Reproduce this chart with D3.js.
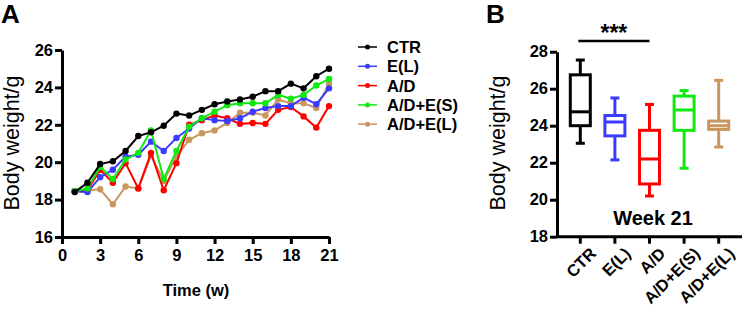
<!DOCTYPE html>
<html>
<head>
<meta charset="utf-8">
<script src="https://cdn.jsdelivr.net/npm/d3@7"></script>
<style>
  body { margin: 0; background: #fff; }
  svg { font-family: "Liberation Sans", Arial, sans-serif; }
  .axis text { font-size: 16.5px; font-weight: bold; fill: #000; }
  .axis path, .axis line { stroke: #000; stroke-width: 3px; }
</style>
</head>
<body>
<svg id="chart" width="746" height="318"></svg>
<script>
// Panel A: weekly body weight
const weeks = d3.range(1, 22);
const ctr   = [18.4, 18.9, 19.9, 20.05, 20.6, 21.4, 21.6, 21.95, 22.6, 22.5, 22.8, 23.1, 23.25, 23.35, 23.5, 23.8, 23.8, 24.2, 23.95, 24.6, 25.0];
const eL    = [18.45, 18.4, 19.2, 19.6, 20.3, 20.4, 21.1, 20.6, 21.3, 21.8, 22.35, 22.25, 22.2, 22.35, 22.7, 22.9, 23.0, 23.0, 23.45, 23.1, 23.95];
const ad    = [18.45, 18.5, 19.6, 18.9, 19.95, 18.6, 20.5, 18.5, 19.95, 22.0, 22.25, 22.5, 22.35, 22.05, 22.1, 22.05, 22.8, 22.95, 22.45, 21.85, 23.0];
const adES  = [18.45, 18.6, 19.75, 19.1, 20.15, 20.5, 21.7, 19.1, 20.6, 21.9, 22.35, 22.7, 23.05, 23.15, 23.15, 23.15, 23.6, 23.4, 23.6, 24.1, 24.45];
const adEL  = [18.45, 18.5, 18.55, 17.75, 18.7, 18.6, 20.35, 19.0, 20.3, 21.2, 21.55, 21.7, 22.1, 22.65, 22.65, 22.5, 23.35, 23.15, 23.15, 22.9, 24.2];
const groups = ['CTR', 'E(L)', 'A/D', 'A/D+E(S)', 'A/D+E(L)'];
const colors = ['#000000', '#3b3bff', '#ff0000', '#10e810', '#c8965e'];
const xTicksA = [0, 3, 6, 9, 12, 15, 18, 21];
const yTicksA = [16, 18, 20, 22, 24, 26];

// Panel B: week 21 box plots [min, q1, median, q3, max]
const boxStats = [
  [23.05, 24.0, 24.75, 26.75, 27.55],
  [22.15, 23.45, 24.2, 24.55, 25.5],
  [20.2, 20.85, 22.2, 23.75, 25.15],
  [21.7, 23.75, 24.85, 25.6, 25.9],
  [22.85, 23.8, 24.0, 24.25, 26.45]
];
const yTicksB = [18, 20, 22, 24, 26, 28];

const series = [ctr, eL, ad, adES, adEL];
const svg = d3.select('#chart');

// ---------- Panel A ----------
const xA = d3.scaleLinear().domain([0, 21]).range([62, 329]);
const yA = d3.scaleLinear().domain([16, 26]).range([237, 50]);

svg.append('g')
  .attr('class', 'axis')
  .attr('transform', `translate(0, ${yA(16)})`)
  .call(d3.axisBottom(xA).tickValues(xTicksA).tickSize(7).tickSizeOuter(0).tickPadding(5));

svg.append('g')
  .attr('class', 'axis')
  .attr('transform', `translate(${xA(0)}, 0)`)
  .call(d3.axisLeft(yA).tickValues(yTicksA).tickSize(7).tickSizeOuter(0).tickPadding(2));

const line = d3.line()
  .x((d, i) => xA(weeks[i]))
  .y(d => yA(d));

// draw brown first so the others sit on top, as in the figure
const drawOrder = [4, 2, 1, 3, 0];
drawOrder.forEach(k => {
  const g = svg.append('g');
  g.append('path')
    .datum(series[k])
    .attr('fill', 'none')
    .attr('stroke', colors[k])
    .attr('stroke-width', 2)
    .attr('d', line);
  g.selectAll('circle')
    .data(series[k])
    .enter().append('circle')
      .attr('cx', (d, i) => xA(weeks[i]))
      .attr('cy', d => yA(d))
      .attr('r', 3.2)
      .attr('fill', colors[k]);
});

// legend
groups.forEach((name, i) => {
  const ly = 47 + i * 19.3;
  svg.append('line')
    .attr('x1', 358).attr('x2', 377)
    .attr('y1', ly).attr('y2', ly)
    .attr('stroke', colors[i]).attr('stroke-width', 1.5);
  svg.append('circle')
    .attr('cx', 367.5).attr('cy', ly).attr('r', 2.5)
    .attr('fill', colors[i]);
  svg.append('text')
    .attr('x', 387).attr('y', ly + 6)
    .attr('font-size', 16.5).attr('font-weight', 'bold')
    .text(name);
});

svg.append('text')
  .attr('x', 196).attr('y', 296)
  .attr('text-anchor', 'middle')
  .attr('font-size', 16.5).attr('font-weight', 'bold')
  .text('Time (w)');

svg.append('text')
  .attr('transform', 'translate(19, 143) rotate(-90)')
  .attr('text-anchor', 'middle')
  .attr('font-size', 21.5)
  .text('Body weight/g');

svg.append('text')
  .attr('x', 1).attr('y', 23)
  .attr('font-size', 26).attr('font-weight', 'bold')
  .text('A');

// ---------- Panel B ----------
const xB = d3.scaleBand().domain(groups).range([563, 736]).padding(0);
const yB = d3.scaleLinear().domain([18, 28]).range([236.7, 51.7]);

svg.append('g')
  .attr('class', 'axis xb')
  .attr('transform', `translate(0, ${yB(18)})`)
  .call(d3.axisBottom(xB).tickSize(7).tickSizeOuter(0).tickPadding(4))
  .call(g => g.select('.domain').attr('d', `M557,0H742`))
  .selectAll('text')
    .attr('text-anchor', 'end')
    .attr('transform', 'translate(5, 6) rotate(-45)')
    .attr('dy', '0.35em');

svg.append('g')
  .attr('class', 'axis')
  .attr('transform', 'translate(557, 0)')
  .call(d3.axisLeft(yB).tickValues(yTicksB).tickSize(7).tickSizeOuter(0).tickPadding(2));

const boxW = 20;
const capW = 9;
boxStats.forEach((s, i) => {
  const cx = xB(groups[i]) + xB.bandwidth() / 2;
  const g = svg.append('g')
    .attr('stroke', colors[i])
    .attr('stroke-width', 3)
    .attr('fill', 'none');
  g.append('line').attr('x1', cx).attr('x2', cx).attr('y1', yB(s[4])).attr('y2', yB(s[3]));
  g.append('line').attr('x1', cx).attr('x2', cx).attr('y1', yB(s[1])).attr('y2', yB(s[0]));
  g.append('line').attr('x1', cx - capW / 2).attr('x2', cx + capW / 2).attr('y1', yB(s[4])).attr('y2', yB(s[4]));
  g.append('line').attr('x1', cx - capW / 2).attr('x2', cx + capW / 2).attr('y1', yB(s[0])).attr('y2', yB(s[0]));
  g.append('rect')
    .attr('x', cx - boxW / 2).attr('width', boxW)
    .attr('y', yB(s[3])).attr('height', yB(s[1]) - yB(s[3]));
  g.append('line').attr('x1', cx - boxW / 2).attr('x2', cx + boxW / 2).attr('y1', yB(s[2])).attr('y2', yB(s[2]));
});

// significance bar CTR vs A/D
const sigX1 = xB('CTR') + xB.bandwidth() / 2 - 2;
const sigX2 = xB('A/D') + xB.bandwidth() / 2;
svg.append('line')
  .attr('x1', sigX1).attr('x2', sigX2)
  .attr('y1', 41).attr('y2', 41)
  .attr('stroke', '#000').attr('stroke-width', 2.5);
svg.append('text')
  .attr('x', (sigX1 + sigX2) / 2).attr('y', 41)
  .attr('text-anchor', 'middle')
  .attr('font-size', 23).attr('font-weight', 'bold')
  .text('***');

svg.append('text')
  .attr('x', 653).attr('y', 225)
  .attr('text-anchor', 'middle')
  .attr('font-size', 20).attr('font-weight', 'bold')
  .text('Week 21');

svg.append('text')
  .attr('transform', 'translate(505, 143) rotate(-90)')
  .attr('text-anchor', 'middle')
  .attr('font-size', 21.5)
  .text('Body weight/g');

svg.append('text')
  .attr('x', 486).attr('y', 23)
  .attr('font-size', 26).attr('font-weight', 'bold')
  .text('B');
</script>
</body>
</html>
